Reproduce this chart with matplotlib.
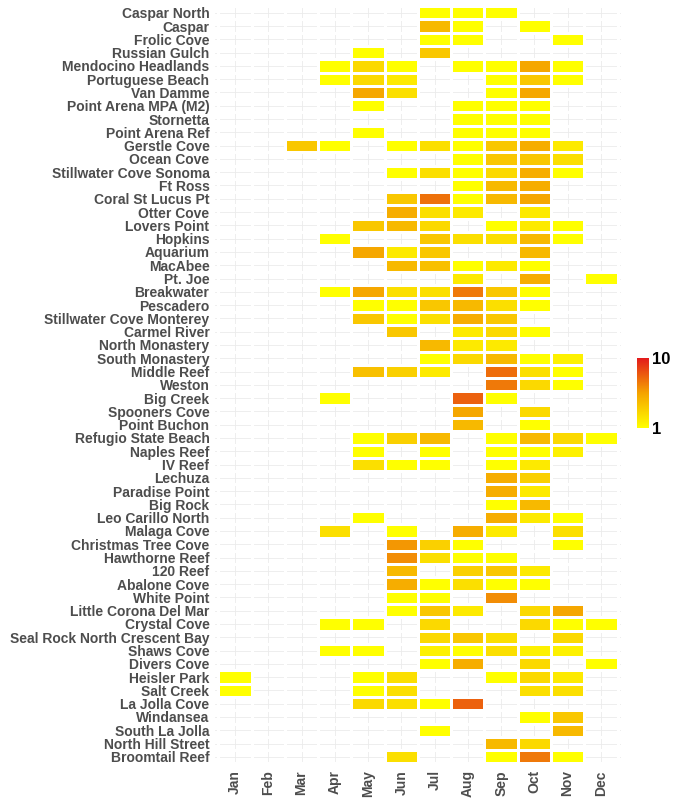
import numpy as np
import matplotlib
matplotlib.use('Agg')
import matplotlib.pyplot as plt
from matplotlib.colors import LinearSegmentedColormap, LogNorm

plt.rcParams['font.family'] = ['Liberation Sans', 'DejaVu Sans']

months = ['Jan', 'Feb', 'Mar', 'Apr', 'May', 'Jun',
          'Jul', 'Aug', 'Sep', 'Oct', 'Nov', 'Dec']

sites = ['Caspar North', 'Caspar', 'Frolic Cove', 'Russian Gulch',
         'Mendocino Headlands', 'Portuguese Beach', 'Van Damme',
         'Point Arena MPA (M2)', 'Stornetta', 'Point Arena Ref',
         'Gerstle Cove', 'Ocean Cove', 'Stillwater Cove Sonoma', 'Ft Ross',
         'Coral St Lucus Pt', 'Otter Cove', 'Lovers Point', 'Hopkins',
         'Aquarium', 'MacAbee', 'Pt. Joe', 'Breakwater', 'Pescadero',
         'Stillwater Cove Monterey', 'Carmel River', 'North Monastery',
         'South Monastery', 'Middle Reef', 'Weston', 'Big Creek',
         'Spooners Cove', 'Point Buchon', 'Refugio State Beach',
         'Naples Reef', 'IV Reef', 'Lechuza', 'Paradise Point', 'Big Rock',
         'Leo Carillo North', 'Malaga Cove', 'Christmas Tree Cove',
         'Hawthorne Reef', '120 Reef', 'Abalone Cove', 'White Point',
         'Little Corona Del Mar', 'Crystal Cove',
         'Seal Rock North Crescent Bay', 'Shaws Cove', 'Divers Cove',
         'Heisler Park', 'Salt Creek', 'La Jolla Cove', 'Windansea',
         'South La Jolla', 'North Hill Street', 'Broomtail Reef']

# counts per site, Jan..Dec (0 = no survey)
counts = [
    [0, 0, 0, 0, 0, 0, 1, 1, 1, 0, 0, 0],
    [0, 0, 0, 0, 0, 0, 2.4, 1, 0, 1, 0, 0],
    [0, 0, 0, 0, 0, 0, 1, 1, 0, 0, 1, 0],
    [0, 0, 0, 0, 1, 0, 2, 0, 0, 0, 0, 0],
    [0, 0, 0, 1, 1.6, 1, 0, 1, 1, 3, 1, 0],
    [0, 0, 0, 1, 1.6, 1.3, 0, 0, 1, 2, 1, 0],
    [0, 0, 0, 0, 3, 1.5, 0, 0, 1, 3, 0, 0],
    [0, 0, 0, 0, 1, 0, 0, 1, 1, 1, 0, 0],
    [0, 0, 0, 0, 0, 0, 0, 1, 1, 1, 0, 0],
    [0, 0, 0, 0, 1, 0, 0, 1, 1, 1, 0, 0],
    [0, 0, 2, 1, 0, 1, 1.5, 1, 2, 2.8, 1.3, 0],
    [0, 0, 0, 0, 0, 0, 0, 1, 2, 2, 1.5, 0],
    [0, 0, 0, 0, 0, 1, 1.5, 1, 1.6, 2.8, 1, 0],
    [0, 0, 0, 0, 0, 0, 0, 1, 2.4, 2.8, 0, 0],
    [0, 0, 0, 0, 0, 2, 4.8, 1, 2.4, 3, 0, 0],
    [0, 0, 0, 0, 0, 2.8, 1.5, 1.3, 0, 1.3, 0, 0],
    [0, 0, 0, 0, 2, 2.4, 1.6, 0, 1, 1.3, 1, 0],
    [0, 0, 0, 1, 0, 0, 2, 1.5, 1.5, 2.4, 1, 0],
    [0, 0, 0, 0, 3, 1.3, 2, 0, 0, 2.4, 0, 0],
    [0, 0, 0, 0, 0, 2.4, 2.2, 1, 1.3, 1, 0, 0],
    [0, 0, 0, 0, 0, 0, 0, 1.3, 0, 2.8, 0, 1],
    [0, 0, 0, 1, 3, 1.5, 1.5, 4.5, 2, 1, 0, 0],
    [0, 0, 0, 0, 1, 1, 2, 2.4, 1.5, 1, 0, 0],
    [0, 0, 0, 0, 2, 1, 1.5, 2.8, 2, 0, 0, 0],
    [0, 0, 0, 0, 0, 2, 0, 1.3, 1.6, 1, 0, 0],
    [0, 0, 0, 0, 0, 0, 2.4, 1.3, 1.3, 0, 0, 0],
    [0, 0, 0, 0, 0, 0, 1, 1.6, 2.4, 1, 1.2, 0],
    [0, 0, 0, 0, 2.2, 1.8, 1.3, 0, 5, 1.5, 1, 0],
    [0, 0, 0, 0, 0, 0, 0, 0, 4.5, 1.6, 1, 0],
    [0, 0, 0, 1, 0, 0, 0, 5.5, 1, 0, 0, 0],
    [0, 0, 0, 0, 0, 0, 0, 3, 0, 1.6, 0, 0],
    [0, 0, 0, 0, 0, 0, 0, 2.4, 0, 1, 0, 0],
    [0, 0, 0, 0, 1, 1.8, 2.4, 0, 1, 2.4, 1.6, 1],
    [0, 0, 0, 0, 1, 0, 1, 0, 1, 1, 1.2, 0],
    [0, 0, 0, 0, 1.5, 1, 1, 0, 1, 1.3, 0, 0],
    [0, 0, 0, 0, 0, 0, 0, 0, 2.8, 1.8, 0, 0],
    [0, 0, 0, 0, 0, 0, 0, 0, 2.8, 1.3, 0, 0],
    [0, 0, 0, 0, 0, 0, 0, 0, 1, 2.4, 0, 0],
    [0, 0, 0, 0, 1, 0, 0, 0, 2.8, 1.3, 1, 0],
    [0, 0, 0, 1.5, 0, 1, 0, 2.8, 1.3, 0, 1.5, 0],
    [0, 0, 0, 0, 0, 3.5, 1.8, 1, 0, 0, 1, 0],
    [0, 0, 0, 0, 0, 3.8, 1.5, 1, 1, 0, 0, 0],
    [0, 0, 0, 0, 0, 2.4, 0, 1.8, 2, 1.3, 0, 0],
    [0, 0, 0, 0, 0, 2.8, 1, 1.5, 1, 1, 0, 0],
    [0, 0, 0, 0, 0, 1, 1, 0, 3.8, 0, 0, 0],
    [0, 0, 0, 0, 0, 1, 2, 1.3, 0, 1.6, 3, 0],
    [0, 0, 0, 1, 1, 0, 1.6, 0, 0, 1.6, 1, 1],
    [0, 0, 0, 0, 0, 0, 1.6, 2, 1.5, 0, 1.6, 0],
    [0, 0, 0, 1, 1, 0, 1.2, 1, 1.5, 1.2, 1.2, 0],
    [0, 0, 0, 0, 0, 0, 1, 2.8, 0, 1.6, 0, 1],
    [1, 0, 0, 0, 1, 1.5, 0, 0, 1, 1.6, 1.3, 0],
    [1, 0, 0, 0, 1, 1.5, 0, 0, 0, 1.5, 1.5, 0],
    [0, 0, 0, 0, 1.6, 1.5, 1, 5.5, 0, 0, 0, 0],
    [0, 0, 0, 0, 0, 0, 0, 0, 0, 1, 2, 0],
    [0, 0, 0, 0, 0, 0, 1, 0, 0, 0, 2.4, 0],
    [0, 0, 0, 0, 0, 0, 0, 0, 2.4, 1.6, 0, 0],
    [0, 0, 0, 0, 0, 1.5, 0, 0, 1, 4.5, 1, 0],
]

grid = np.ma.masked_equal(np.array(counts, dtype=float), 0)
cmap = LinearSegmentedColormap.from_list(
    'ylrd', [(0, '#FFFF00'), (0.5, '#F5A300'), (1, '#E31A1C')])
norm = LogNorm(vmin=1, vmax=10)

fig = plt.figure(figsize=(6.73, 8), dpi=100)
ax = fig.add_axes([0.3195, 0.044, 0.603, 0.95])

nx, ny = len(months), len(sites)
ax.set_xticks(np.arange(nx))
ax.set_yticks(np.arange(ny))
ax.grid(True, color='#EBEBEB', linewidth=0.6, zorder=0)
ax.set_axisbelow(True)

mesh = ax.pcolormesh(np.arange(nx + 1) - 0.5, np.arange(ny + 1) - 0.5, grid,
                     cmap=cmap, norm=norm, edgecolors='white',
                     linewidth=1.8, zorder=2)

ax.set_xlim(-0.6, nx - 0.4)
ax.set_ylim(ny - 0.4, -0.6)
ax.set_xticklabels(months, rotation=90, fontsize=10, fontweight='bold',
                   color='#4D4D4D')
ax.set_yticklabels(sites, fontsize=10, fontweight='bold', color='#4D4D4D')
ax.tick_params(length=0, pad=4)
for s in ax.spines.values():
    s.set_visible(False)

cax = fig.add_axes([0.9465, 0.465, 0.018, 0.0875])
cb = fig.colorbar(mesh, cax=cax, ticks=[1, 10])
cb.ax.set_yticklabels(['1', '10'], fontsize=12, fontweight='bold')
cb.ax.minorticks_off()
cb.ax.tick_params(length=0, pad=2)
cb.outline.set_visible(False)

fig.savefig('out.png', dpi=100)
